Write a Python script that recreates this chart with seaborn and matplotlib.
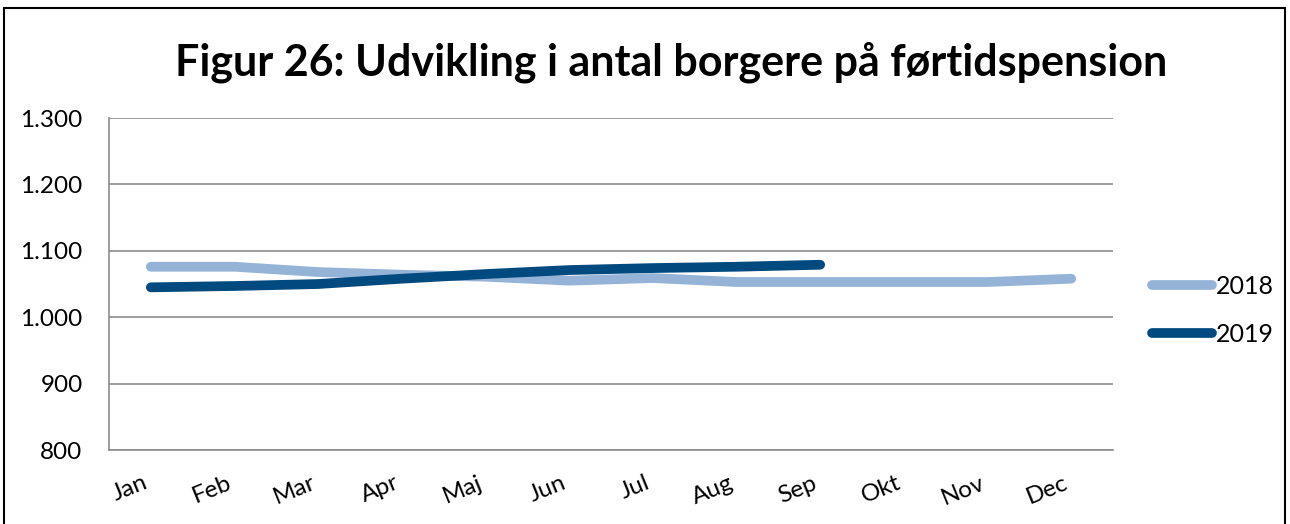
import pandas as pd
import matplotlib.pyplot as plt
import matplotlib.ticker as mticker
import seaborn as sns

# Måneder og værdier
months = ["Jan", "Feb", "Mar", "Apr", "Maj", "Jun", "Jul", "Aug", "Sep", "Okt", "Nov", "Dec"]
values_2018 = [1076, 1076, 1068, 1064, 1061, 1055, 1059, 1053, 1053, 1053, 1053, 1058]
values_2019 = [1045, 1047, 1050, 1058, 1065, 1071, 1074, 1076, 1079]

df = pd.concat([
    pd.DataFrame({"måned": months, "antal": values_2018, "år": "2018"}),
    pd.DataFrame({"måned": months[:len(values_2019)], "antal": values_2019, "år": "2019"}),
])

sns.set_style("white")
plt.rcParams['font.family'] = ['Lato', 'DejaVu Sans']
plt.rcParams['text.color'] = 'black'

fig = plt.figure(figsize=(12.9, 5.24), dpi=100)
ax = fig.add_axes([0.0845, 0.1412, 0.7783, 0.6336])

sns.lineplot(data=df, x="måned", y="antal", hue="år", sort=False,
             palette={"2018": "#95b3d7", "2019": "#004a7f"},
             linewidth=7, solid_capstyle="round", ax=ax)

ax.set_xlim(-0.5, 11.5)
ax.set_ylim(800, 1300)
ax.yaxis.set_major_locator(mticker.MultipleLocator(100))
ax.yaxis.set_major_formatter(mticker.FuncFormatter(lambda v, p: f"{int(v):,}".replace(",", ".")))
ax.grid(axis="y", color="#8c8c8c", linewidth=1.2)
ax.set_axisbelow(True)
for s in ["top", "right"]:
    ax.spines[s].set_visible(False)
for s in ["left", "bottom"]:
    ax.spines[s].set_color("#8c8c8c")
    ax.spines[s].set_linewidth(1.2)
ax.set_xlabel("")
ax.set_ylabel("")
ax.tick_params(axis="both", length=0, labelsize=17.5, colors="black")
ax.tick_params(axis="y", pad=19)
plt.setp(ax.get_xticklabels(), rotation=22, ha="right")
ax.tick_params(axis="x", pad=16)

leg = ax.legend(loc="center left", bbox_to_anchor=(1.029, 0.42), frameon=False,
                borderaxespad=0, fontsize=18, handlelength=2.4, handletextpad=0.15,
                labelspacing=1.0)
for t in leg.get_texts():
    t.set_color("black")

fig.suptitle("Figur 26: Udvikling i antal borgere på førtidspension",
             fontsize=31, fontweight="bold", x=0.52, y=0.92, color="black")

# ramme om hele figuren
fig.patches.append(plt.Rectangle((0.003, -0.01), 0.993, 0.995, transform=fig.transFigure,
                                 fill=False, edgecolor="black", linewidth=1.5))

fig.savefig("out.png", dpi=100)
